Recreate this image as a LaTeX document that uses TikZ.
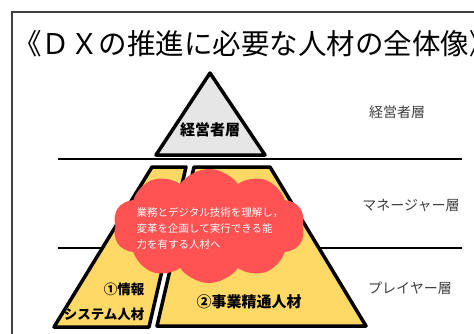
\documentclass[tikz,border=0pt]{standalone}
\usepackage{fontspec}
\setmainfont{Noto Sans CJK JP}
\usetikzlibrary{shapes.symbols}
\definecolor{tiergray}{HTML}{E6E6E6}
\definecolor{tieryellow}{HTML}{FFD966}
\definecolor{cloudred}{HTML}{FF5252}
\definecolor{layertext}{HTML}{404040}
\begin{document}
\begin{tikzpicture}[x=1pt,y=-1pt,
    tier/.style={draw=black,line width=3.5pt,line join=round},
    tierlabel/.style={font=\fontsize{15}{17}\selectfont\bfseries},
    layerlabel/.style={font=\fontsize{14}{16}\selectfont,text=layertext},
    divider/.style={line width=1.2pt}]
  \useasboundingbox (0,0) rectangle (474,333);
  % frame and title
  \draw[line width=1.5pt,draw=black!75] (12,345) -- (12,12) -- (490,12);
  \node[anchor=west,inner sep=0pt,font=\fontsize{28.5}{30}\selectfont] (title) at (13,44)
    {《ＤＸの推進に必要な人材の全体像》};
  % layer dividers
  \coordinate (d1l) at (58,159);
  \coordinate (d1r) at (462,159);
  \coordinate (d2l) at (58,248);
  \coordinate (d2r) at (462,248);
  \draw[divider] (d1l) -- (d1r);
  \draw[divider] (d2l) -- (d2r);
  % pyramid
  \draw[tier,fill=tiergray] (210,73) -- (265,155) -- (156,155) -- cycle;
  \draw[tier,fill=tieryellow] (152,167) -- (186,167) -- (149,327) -- (54,327) -- cycle;
  \draw[tier,fill=tieryellow] (194,167) -- (270,167) -- (366,326) -- (157,326) -- cycle;
  \node[tierlabel] (mgmt) at (210,130) {経営者層};
  \node[tierlabel,font=\fontsize{13.5}{25}\selectfont\bfseries,align=right,anchor=east] (info) at (148,302)
    {①情報\\システム人材};
  \node[tierlabel] (biz) at (249,302) {②事業精通人材};
  % cloud
  \node[cloud,cloud puffs=10,cloud puff arc=110,aspect=1.9,fill=cloudred,
    minimum width=192pt,minimum height=114pt,inner sep=0pt] (need) at (209,226) {};
  \node[align=left,text=white,font=\fontsize{10.5}{16}\selectfont] (needtext) at (210,228)
    {業務とデジタル技術を理解し，\\変革を企画して実行できる能\\力を有する人材へ};
  % layer names
  \node[layerlabel] (top) at (397,112) {経営者層};
  \node[layerlabel] (mid) at (411,206) {マネージャー層};
  \node[layerlabel] (low) at (410,288) {プレイヤー層};
\end{tikzpicture}
\end{document}
